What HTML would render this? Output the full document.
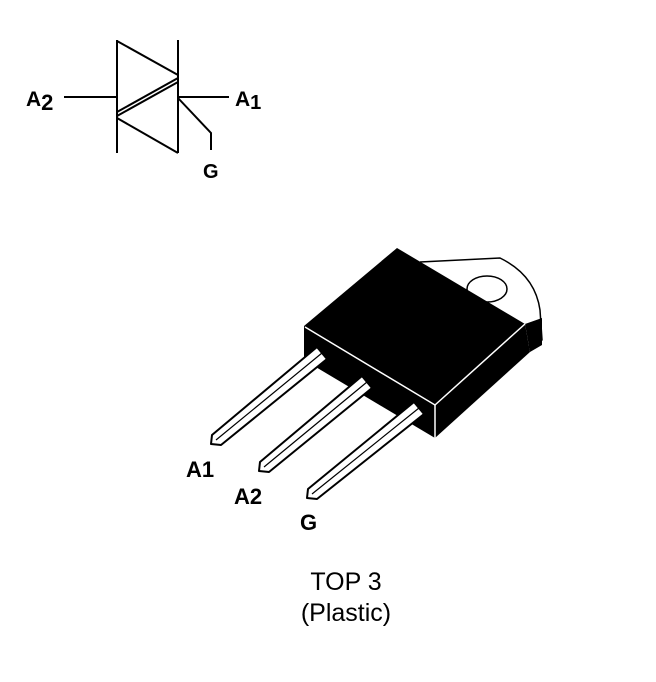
<!DOCTYPE html>
<html><head><style>body{margin:0;background:#fff}svg{display:block}</style></head>
<body>
<svg width="656" height="682" viewBox="0 0 656 682" xmlns="http://www.w3.org/2000/svg">
<g stroke="#000" stroke-width="2" fill="none">
<line x1="117" y1="40" x2="117" y2="153"/>
<line x1="178" y1="40" x2="178" y2="153"/>
<line x1="117" y1="41" x2="178" y2="75"/>
<line x1="178" y1="78" x2="117" y2="112"/>
<line x1="178" y1="82" x2="117" y2="116"/>
<line x1="117" y1="118" x2="178" y2="153"/>
<line x1="64" y1="97" x2="117" y2="97"/>
<line x1="178" y1="97" x2="229" y2="97"/>
<polyline points="178,98 211,133 211,150"/>
</g>
<g font-family="Liberation Sans, sans-serif" font-weight="bold" fill="#000">
<text x="26" y="106" font-size="21">A<tspan font-size="22" dy="4">2</tspan></text>
<text x="235" y="106" font-size="21">A<tspan font-size="20" dy="3">1</tspan></text>
<text x="203" y="178" font-size="20">G</text>
</g>
<!-- tab -->
<path d="M420,262 L500,258 Q535,275 540,310 L542,340 L528,348" fill="#fff" stroke="#000" stroke-width="1.5"/>
<ellipse cx="487" cy="289" rx="20" ry="13" fill="#fff" stroke="#000" stroke-width="1.5"/>
<!-- box -->
<polygon points="397,248 304,326 435,405 525,324" fill="#000"/>
<polygon points="304,326 435,405 435,438 304,360" fill="#000"/>
<polygon points="435,405 525,324 530,352 435,438" fill="#000"/>
<polygon points="525,324 542,318 542,345 530,352" fill="#000"/>
<polyline points="305,327 435,405 525,324" stroke="#fff" stroke-width="1.5" fill="none"/>
<line x1="435" y1="405" x2="435" y2="438" stroke="#fff" stroke-width="1.5"/>
<!-- leads -->
<g fill="#fff" stroke="#000" stroke-width="2" stroke-linejoin="round">
<polygon points="317,347 327,359 221,445 211,444 212,435"/>
<polygon points="362,376 372,388 269,472 259,471 260,462"/>
<polygon points="414,402 424,414 317,499 307,498 308,489"/>
</g>
<g stroke="#000" stroke-width="1.2">
<line x1="322" y1="353" x2="216" y2="440"/>
<line x1="367" y1="382" x2="264" y2="467"/>
<line x1="419" y1="408" x2="312" y2="494"/>
</g>
<g font-family="Liberation Sans, sans-serif" font-weight="bold" fill="#000" font-size="22">
<text x="186" y="477">A1</text>
<text x="234" y="504">A2</text>
<text x="300" y="530">G</text>
</g>
<g font-family="Liberation Sans, sans-serif" fill="#000" font-size="25" text-anchor="middle">
<text x="346" y="590">TOP 3</text>
<text x="346" y="621">(Plastic)</text>
</g>
</svg>
</body></html>
